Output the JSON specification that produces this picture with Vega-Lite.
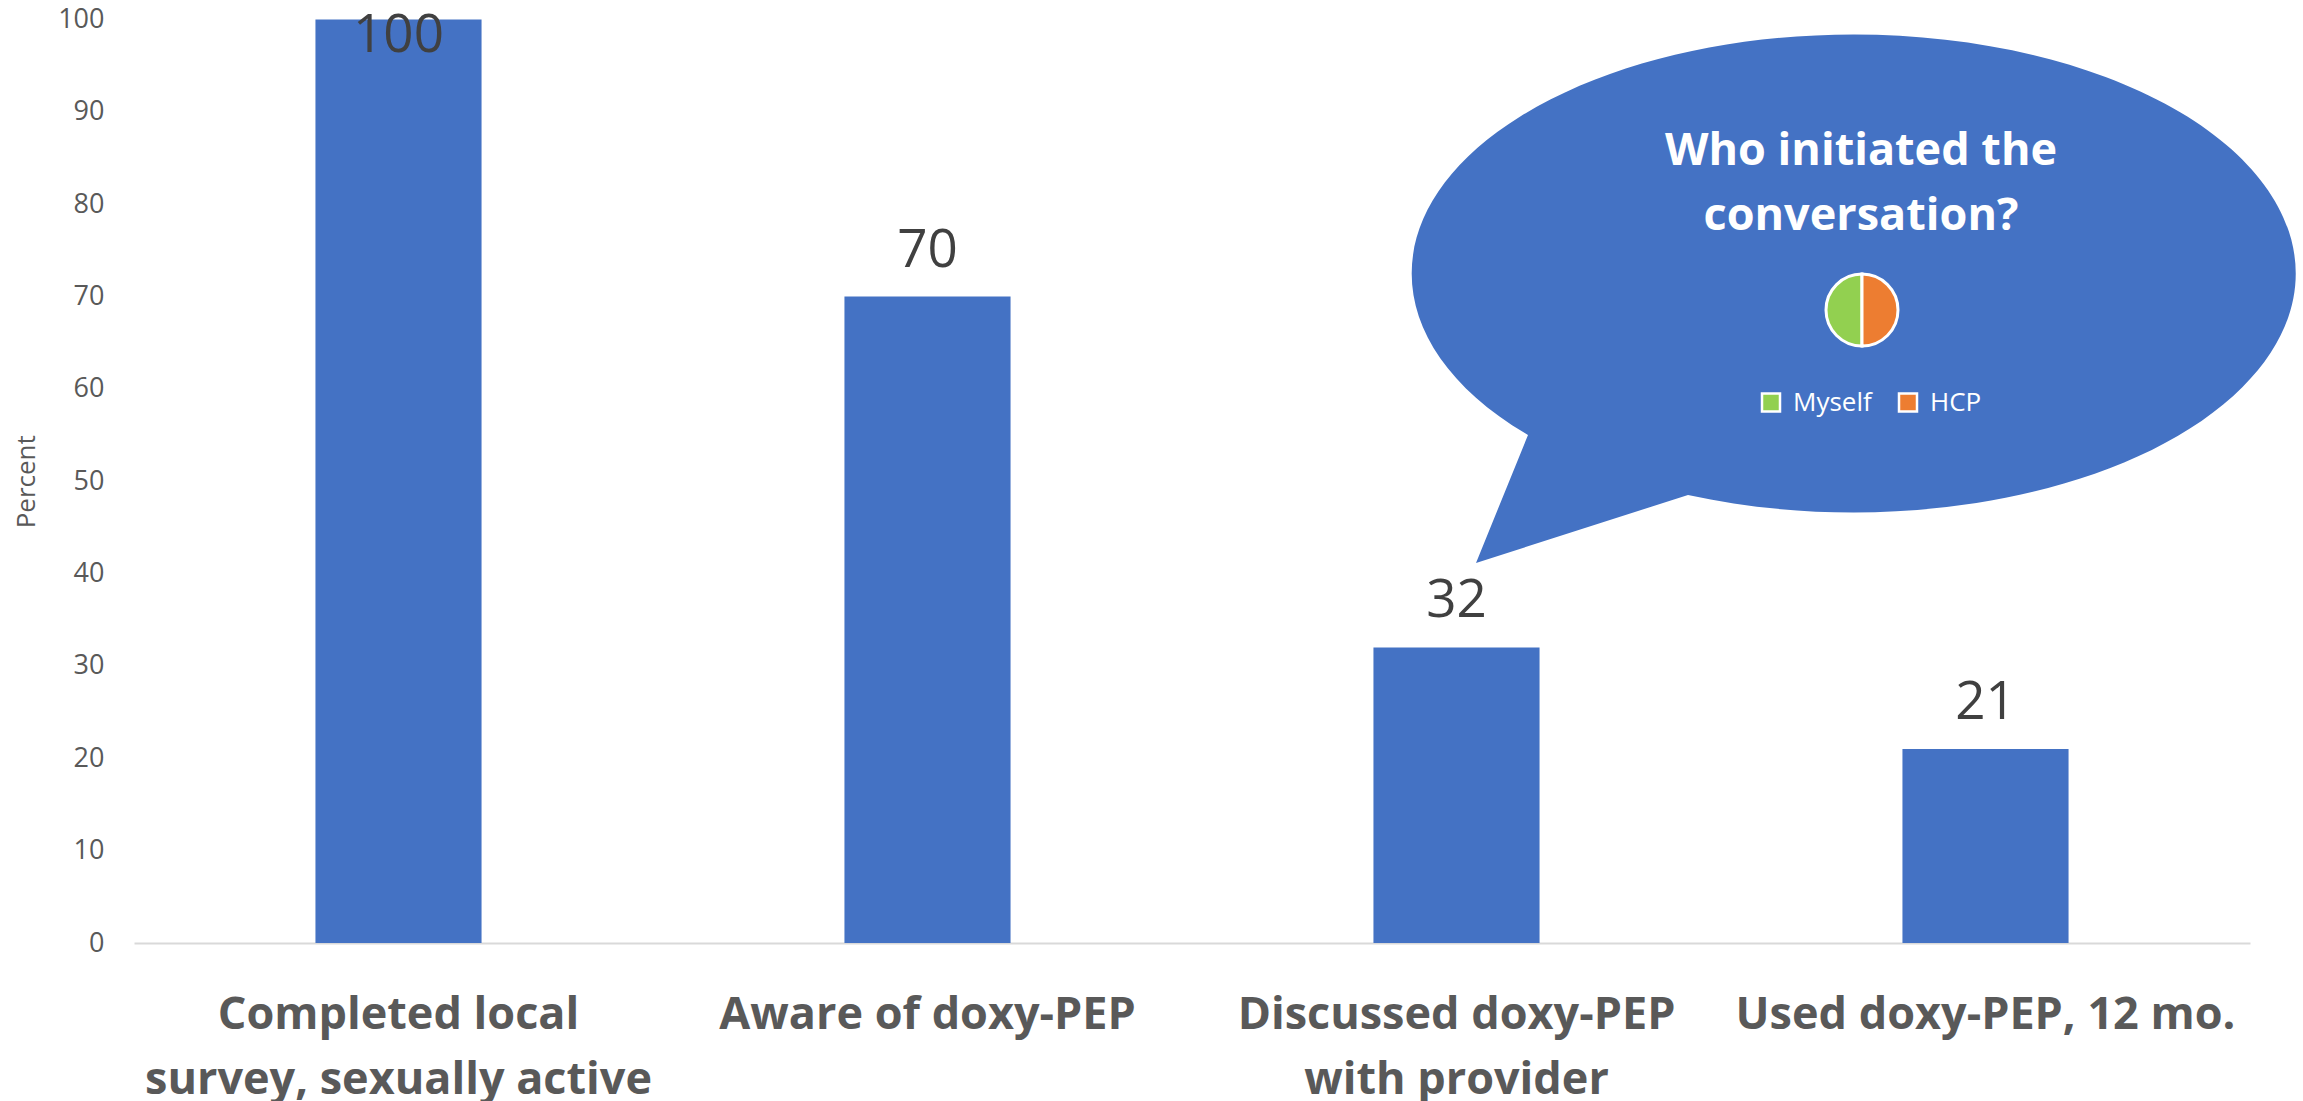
{
  "$schema": "https://vega.github.io/schema/vega-lite/v6.json",
  "width": 2116,
  "height": 923.5,
  "autosize": {"type": "none"},
  "padding": {"left": 134, "top": 19.5, "right": 53, "bottom": 158.5},
  "background": "white",
  "config": {"view": {"stroke": null}, "font": "Open Sans"},
  "data": {
    "values": [
      {"category": "Completed local\nsurvey, sexually active", "value": 100},
      {"category": "Aware of doxy-PEP", "value": 70},
      {"category": "Discussed doxy-PEP\nwith provider", "value": 32},
      {"category": "Used doxy-PEP, 12 mo.", "value": 21}
    ]
  },
  "layer": [
    {
      "mark": {"type": "bar", "color": "#4472C4"},
      "encoding": {
        "x": {
          "field": "category", "type": "nominal", "sort": null, "title": null,
          "scale": {"paddingInner": 0.686, "paddingOuter": 0.343},
          "axis": {
            "labelExpr": "split(datum.label, '\\n')",
            "labelAngle": 0, "labelFont": "Open Sans", "labelFontSize": 45, "labelFontWeight": "bold",
            "labelColor": "#595959", "labelLineHeight": 65, "labelBaseline": "top", "labelPadding": 49.5,
            "ticks": false, "domainColor": "#D9D9D9", "domainWidth": 2, "labelLimit": 1000,
            "labelOverlap": false, "grid": false
          }
        },
        "y": {
          "field": "value", "type": "quantitative", "title": "Percent",
          "scale": {"domain": [0, 100]},
          "axis": {
            "values": [0, 10, 20, 30, 40, 50, 60, 70, 80, 90, 100],
            "grid": false, "ticks": false, "domain": false,
            "labelFont": "Open Sans", "labelFontSize": 27, "labelColor": "#595959", "labelPadding": 30,
            "titleFont": "Open Sans", "titleFontSize": 26, "titleFontWeight": "normal", "titleColor": "#595959",
            "titlePadding": 18
          }
        }
      }
    },
    {
      "transform": [{"filter": "datum.value < 100"}],
      "mark": {"type": "text", "font": "Open Sans", "fontSize": 53, "color": "#404040", "baseline": "alphabetic", "dy": -30},
      "encoding": {
        "x": {"field": "category", "type": "nominal", "sort": null, "title": null},
        "y": {"field": "value", "type": "quantitative", "title": "Percent"},
        "text": {"field": "value", "type": "quantitative"}
      }
    },
    {
      "transform": [{"filter": "datum.value == 100"}],
      "mark": {"type": "text", "font": "Open Sans", "fontSize": 53, "color": "#404040", "baseline": "alphabetic", "dy": 32.5},
      "encoding": {
        "x": {"field": "category", "type": "nominal", "sort": null, "title": null},
        "y": {"field": "value", "type": "quantitative", "title": "Percent"},
        "text": {"field": "value", "type": "quantitative"}
      }
    },
    {
      "data": {"values": [{"note": "callout"}]},
      "mark": {
        "type": "point",
        "shape": "M -322 164 L -374 292 L -162 224 A 442 239 0 1 0 -322 164 Z",
        "size": 4, "filled": true, "fill": "#4472C4", "opacity": 1, "strokeWidth": 0, "xOffset": -135.5
      },
      "encoding": {
        "x": {"datum": "Used doxy-PEP, 12 mo.", "type": "nominal", "title": null},
        "y": {"datum": 72.77, "type": "quantitative", "title": "Percent"}
      }
    },
    {
      "data": {"values": [{"who": "Myself", "pct": 50}, {"who": "HCP", "pct": 50}]},
      "mark": {"type": "arc", "outerRadius": 36, "stroke": "white", "strokeWidth": 3, "xOffset": -123.5},
      "encoding": {
        "x": {"datum": "Used doxy-PEP, 12 mo.", "type": "nominal", "title": null},
        "y": {"datum": 68.54, "type": "quantitative", "title": "Percent"},
        "theta": {"field": "pct", "type": "quantitative"},
        "order": {"field": "who", "sort": "ascending"},
        "color": {
          "field": "who", "type": "nominal",
          "scale": {"domain": ["Myself", "HCP"], "range": ["#92D050", "#ED7D31"]},
          "legend": {
            "orient": "none", "legendX": 1624, "legendY": 370, "direction": "horizontal", "title": null,
            "symbolType": "square", "symbolSize": 324, "symbolStrokeColor": "white", "symbolStrokeWidth": 2.5,
            "symbolOpacity": 1, "labelColor": "white", "labelFontSize": 26, "labelFont": "Open Sans",
            "labelOffset": 9, "columnPadding": 22, "padding": 0
          }
        }
      }
    },
    {
      "data": {"values": [{"note": "title"}]},
      "mark": {
        "type": "text", "text": ["Who initiated the", "conversation?"],
        "font": "Open Sans", "fontSize": 45, "fontWeight": "bold", "color": "white",
        "baseline": "middle", "lineHeight": 65, "xOffset": -124.5
      },
      "encoding": {
        "x": {"datum": "Used doxy-PEP, 12 mo.", "type": "nominal", "title": null},
        "y": {"datum": 85.8, "type": "quantitative", "title": "Percent"}
      }
    }
  ]
}
